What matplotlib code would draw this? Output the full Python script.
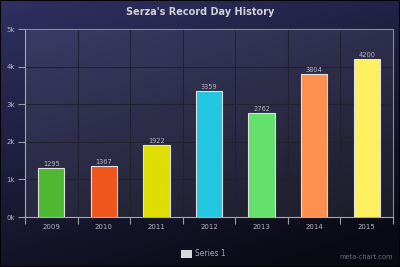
import numpy as np
import matplotlib
matplotlib.use("Agg")
import matplotlib.pyplot as plt
from matplotlib.patches import Rectangle

years = ["2009", "2010", "2011", "2012", "2013", "2014", "2015"]
values = [1295, 1367, 1922, 3359, 2762, 3804, 4200]
colors = ["#4fb833", "#ef561b", "#dede00", "#22c6e0", "#64e06c", "#ff9050", "#fff062"]
ytick_vals = [0, 1000, 2000, 3000, 4000, 5000]
ytick_labels = ["0k", "1k", "2k", "3k", "4k", "5k"]
title = "Serza's Record Day History"
series_name = "Series 1"

fig = plt.figure(figsize=(4, 2.67), dpi=100)

# background gradient
bg = fig.add_axes([0, 0, 1, 1], zorder=-10)
yy, xx = np.mgrid[0:1:200j, 0:1:300j]
t = np.clip(0.75 * yy + 0.35 * xx, 0, 1)
c0 = np.array([0x30, 0x30, 0x62]) / 255
c1 = np.array([0x0a, 0x0a, 0x14]) / 255
img = c0[None, None, :] * (1 - t[..., None]) + c1[None, None, :] * t[..., None]
bg.imshow(img, aspect="auto", extent=[0, 1, 0, 1], origin="upper")
bg.set_axis_off()
fig.patches.append(Rectangle((0, 0), 1, 1, transform=fig.transFigure, facecolor="none",
                             edgecolor="#050508", linewidth=1.5))

ax = fig.add_axes([0.0625, 0.187, 0.92, 0.704])
ax.set_facecolor((1, 1, 1, 0.07))
n = len(years)
x = np.arange(n)
ax.bar(x, values, width=0.5, color=colors, edgecolor="#e0e0e0", linewidth=0.8, zorder=3)
for xi, v in zip(x, values):
    ax.text(xi, v + 30, str(v), ha="center", va="bottom", fontsize=4.8, color="#b8b8c4", zorder=4)

ax.set_xlim(-0.5, n - 0.5)
ax.set_ylim(0, 5000)
ax.set_yticks(ytick_vals)
ax.set_yticklabels(ytick_labels)
ax.set_xticks(x)
ax.set_xticklabels(years)
ax.set_xticks(np.arange(-0.5, n, 1.0), minor=True)
ax.tick_params(axis="x", which="major", length=0, labelsize=5, colors="#b4b4c0", pad=5)
ax.tick_params(axis="x", which="minor", length=5, width=0.8, color="#9a9aa8")
ax.tick_params(axis="y", length=5, width=0.8, color="#9a9aa8", labelsize=5, labelcolor="#b4b4c0", pad=2)
ax.grid(False)
for v in ytick_vals[1:]:
    ax.axhline(v, color="#22222e", linewidth=0.8, zorder=1)
for b in np.arange(0.5, n - 0.5, 1.0):
    ax.axvline(b, color="#22222e", linewidth=0.8, zorder=1)
for s in ax.spines.values():
    s.set_color("#8a8a98")
    s.set_linewidth(0.8)
ax.spines["left"].set_color("#a8a8b4")
ax.spines["bottom"].set_color("#a8a8b4")

fig.text(0.5, 0.955, title, ha="center", va="center", fontsize=7, fontweight="bold", color="#d0d0d8")

# legend
fig.patches.append(Rectangle((181 / 400, 1 - 258 / 267), 11 / 400, 8 / 267,
                             transform=fig.transFigure, facecolor="#d8d8d8", edgecolor="none"))
fig.text(195 / 400, 1 - 254 / 267, series_name, ha="left", va="center", fontsize=5.5, color="#a8a8b4")
fig.text(393 / 400, 1 - 257 / 267, "meta-chart.com", ha="right", va="center", fontsize=4.8, color="#6a6a78")

fig.savefig("out.png", dpi=100)
